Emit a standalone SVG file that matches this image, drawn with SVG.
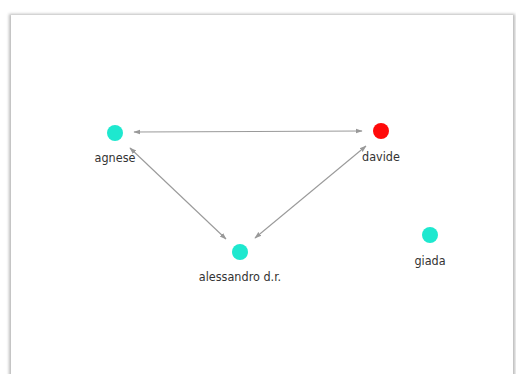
<svg xmlns="http://www.w3.org/2000/svg" width="516" height="374" viewBox="0 0 516 374">
<defs>
<marker id="ah" viewBox="0 0 10 10" refX="9" refY="5" markerWidth="7" markerHeight="7" orient="auto-start-reverse" markerUnits="userSpaceOnUse">
<path d="M0,1.5 L10,5 L0,8.5 Z" fill="#999"/>
</marker>
<filter id="sh" x="-5%" y="-5%" width="110%" height="110%">
<feGaussianBlur stdDeviation="1.5"/>
</filter>
</defs>
<style>
.edge{stroke:#9a9a9a;stroke-width:1.1;fill:none;marker-start:url(#ah);marker-end:url(#ah)}
.lbl{font-family:"DejaVu Sans Condensed","Liberation Sans",sans-serif;font-size:12.5px;fill:#333;text-anchor:middle}
.cyan{fill:#1ee8cf}
.red{fill:#ff0a0a}
</style>
<rect width="516" height="374" fill="#fff"/>
<rect x="9" y="14" width="506" height="370" fill="#bbb" filter="url(#sh)"/>
<rect x="11" y="15" width="502" height="370" fill="#fff"/>
<g id="connectors">
<line class="edge" x1="134" y1="132" x2="362" y2="131"/>
<line class="edge" x1="130" y1="148" x2="226" y2="239"/>
<line class="edge" x1="366" y1="146" x2="255" y2="238"/>
</g>
<g id="agnese"><circle class="cyan" cx="115" cy="133" r="8"/><text class="lbl" x="115" y="162">agnese</text></g>
<g id="davide"><circle class="red" cx="381" cy="131" r="8"/><text class="lbl" x="381" y="161">davide</text></g>
<g id="alessandro"><circle class="cyan" cx="240" cy="252" r="8"/><text class="lbl" x="240" y="281">alessandro d.r.</text></g>
<g id="giada"><circle class="cyan" cx="430" cy="235" r="8"/><text class="lbl" x="430" y="265">giada</text></g>
</svg>
